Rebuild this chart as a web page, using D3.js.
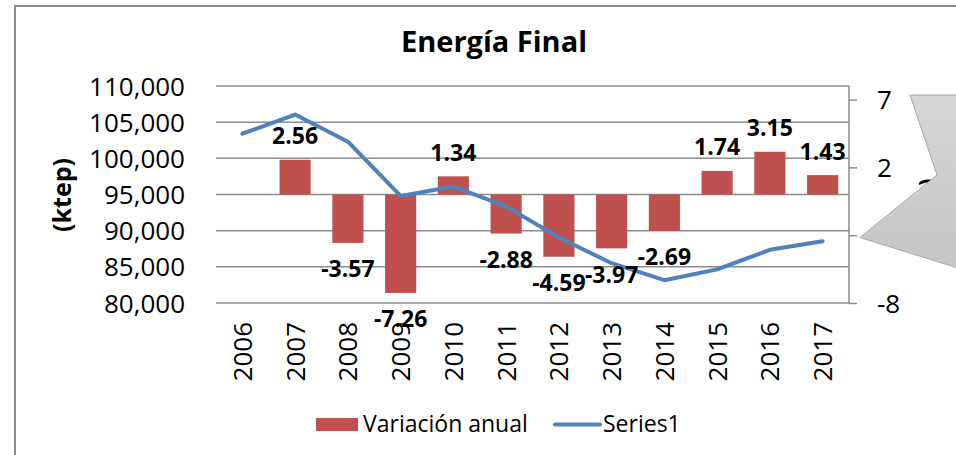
<!DOCTYPE html>
<html>
<head>
<meta charset="utf-8">
<script src="https://cdn.jsdelivr.net/npm/d3@7"></script>
<style>
  html, body { margin: 0; padding: 0; background: #fff; }
  svg { display: block; }
  text { font-family: "Open Sans", sans-serif; fill: #000; }
</style>
</head>
<body>
<svg id="chart" width="956" height="455"></svg>
<script>
const years = ["2006","2007","2008","2009","2010","2011","2012","2013","2014","2015","2016","2017"];
const variacion = [null, 2.56, -3.57, -7.26, 1.34, -2.88, -4.59, -3.97, -2.69, 1.74, 3.15, 1.43];
const series1 = [103400, 106050, 102300, 94800, 96100, 93350, 89050, 85500, 83150, 84650, 87350, 88550];
const leftTicks = [80000, 85000, 90000, 95000, 100000, 105000, 110000];
const rightTicks = [-8, -3, 2, 7];
const titleText = "Energía Final";
const yTitle = "(ktep)";
const legendLabels = ["Variación anual", "Series1"];

const svg = d3.select("#chart");
const W = 956, H = 455;
const plot = {left: 216, right: 849, top: 86, bottom: 303};
const barColor = "#c0504d", lineColor = "#4f81bd", gridColor = "#8c8c8c";

svg.append("rect").attr("width", W).attr("height", H).attr("fill", "#fff");
// chart frame
svg.append("path").attr("d", `M15,${H} V6 H${W}`).attr("fill", "none")
  .attr("stroke", "#8a8a8a").attr("stroke-width", 2);

const x = d3.scaleBand().domain(years).range([plot.left, plot.right]).padding(0);
const yL = d3.scaleLinear().domain([80000, 110000]).range([plot.bottom, plot.top]);
const yR = d3.scaleLinear().domain([-8, 8]).range([plot.bottom, plot.top]);

// gridlines
svg.append("g").selectAll("line").data(leftTicks).join("line")
  .attr("x1", plot.left).attr("x2", plot.right)
  .attr("y1", d => yL(d)).attr("y2", d => yL(d))
  .attr("stroke", gridColor).attr("stroke-width", 1.5);

// left axis labels
const fmt = d3.format(",");
svg.append("g").selectAll("text").data(leftTicks).join("text")
  .attr("x", 185).attr("y", d => yL(d) + 9.5)
  .attr("text-anchor", "end").style("font-size", "26px")
  .text(d => fmt(d));

// right axis
const rAxis = d3.axisRight(yR).tickValues(rightTicks).tickSize(8).tickPadding(18).tickFormat(d => String(d));
const rg = svg.append("g").attr("transform", `translate(${plot.right},0)`).call(rAxis);
rg.select(".domain").attr("stroke", gridColor).attr("stroke-width", 1.5)
  .attr("d", `M0,${plot.top}V${plot.bottom}`);
rg.selectAll(".tick line").attr("stroke", gridColor).attr("stroke-width", 1.5);
rg.selectAll(".tick text").style("font-size", "26px").style("font-family", "Open Sans, sans-serif")
  .attr("fill", "#000").attr("dy", "0.35em").attr("x", 28);

// x axis labels (rotated)
svg.append("g").selectAll("text").data(years).join("text")
  .attr("transform", d => `translate(${x(d) + x.bandwidth()/2 + 9.5},322) rotate(-90)`)
  .attr("text-anchor", "end").style("font-size", "26px")
  .text(d => d);

// bars
const bw = x.bandwidth() * 0.59;
const barData = years.map((y, i) => ({year: y, v: variacion[i]})).filter(d => d.v !== null);
svg.append("g").selectAll("rect").data(barData).join("rect")
  .attr("x", d => x(d.year) + (x.bandwidth() - bw) / 2)
  .attr("width", bw)
  .attr("y", d => yR(Math.max(0, d.v)))
  .attr("height", d => Math.abs(yR(d.v) - yR(0)))
  .attr("fill", barColor);

// line
const line = d3.line().x((d, i) => x(years[i]) + x.bandwidth()/2).y(d => yL(d));
svg.append("path").datum(series1).attr("d", line)
  .attr("fill", "none").attr("stroke", lineColor).attr("stroke-width", 4)
  .attr("stroke-linejoin", "round").attr("stroke-linecap", "round");

// data labels
svg.append("g").selectAll("text").data(barData).join("text")
  .attr("x", d => x(d.year) + x.bandwidth()/2)
  .attr("y", d => d.v >= 0 ? yR(d.v) - 23.5 + 8 : yR(d.v) + 26.5 + 8)
  .attr("text-anchor", "middle").style("font-size", "23px").style("font-weight", "bold")
  .text(d => d.v.toFixed(2));

// title
svg.append("text").attr("x", 494).attr("y", 52).attr("text-anchor", "middle")
  .style("font-size", "29px").style("font-weight", "bold").text(titleText);

// y axis title
svg.append("text").attr("transform", "translate(71,195) rotate(-90)")
  .attr("text-anchor", "middle").style("font-size", "25px").style("font-weight", "bold")
  .text(yTitle);

// secondary axis title fragment (mostly hidden by shape)
svg.append("text").attr("transform", "translate(934,196) rotate(-90)")
  .attr("text-anchor", "middle").style("font-size", "22px").style("font-weight", "bold")
  .text("(%)");

// gray overlapping shape
const defs = svg.append("defs");
const grad = defs.append("linearGradient").attr("id", "gshape").attr("x1", 0).attr("y1", 0).attr("x2", 0).attr("y2", 1);
grad.append("stop").attr("offset", "0%").attr("stop-color", "#d6d6d6");
grad.append("stop").attr("offset", "100%").attr("stop-color", "#c6c6c6");
const shapePts = [[910,95],[958,95],[958,268],[860,237.5],[937,175]];
svg.append("path").attr("d", d3.line()(shapePts) + "Z")
  .attr("fill", "url(#gshape)").attr("stroke", "#a6a6a6").attr("stroke-width", 1);

// legend
const lg = svg.append("g");
lg.append("rect").attr("x", 316).attr("y", 418).attr("width", 42).attr("height", 13).attr("fill", barColor);
lg.append("text").attr("x", 363).attr("y", 432).style("font-size", "23px").text(legendLabels[0]);
lg.append("line").attr("x1", 555).attr("x2", 600).attr("y1", 424.5).attr("y2", 424.5)
  .attr("stroke", lineColor).attr("stroke-width", 4).attr("stroke-linecap", "round");
lg.append("text").attr("x", 603).attr("y", 432).style("font-size", "23px").text(legendLabels[1]);
</script>
</body>
</html>
